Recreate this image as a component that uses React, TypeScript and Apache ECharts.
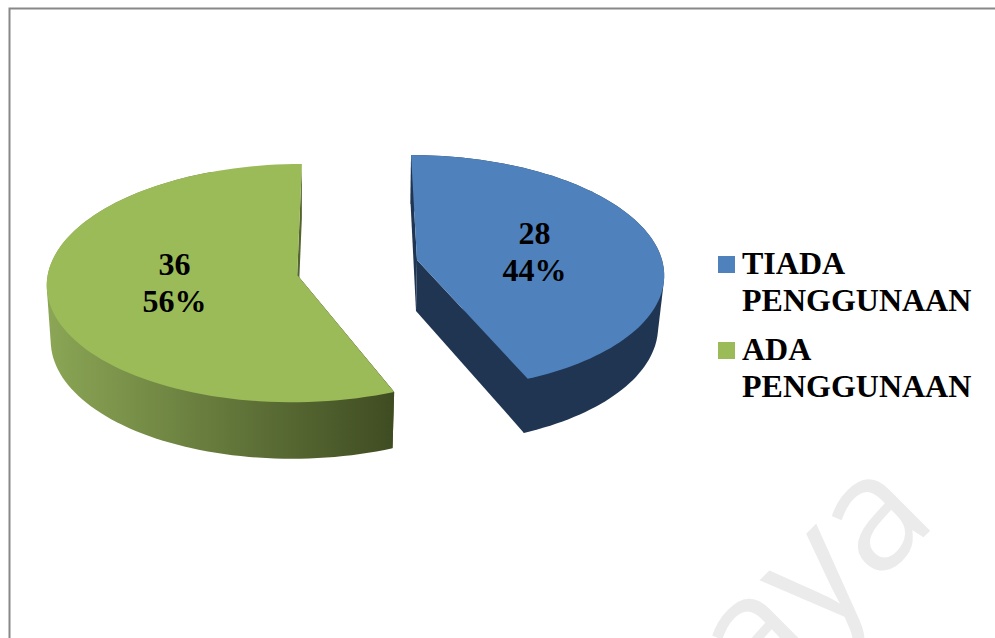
import React, { useEffect, useRef } from "react";
import * as echarts from "echarts";

// Usage counts per category
const categories = ["TIADA\nPENGGUNAAN", "ADA\nPENGGUNAAN"];
const values = [28, 36];
const faceColors = ["#4f81bd", "#9bbb59"];
const sideStops = [
  ["#1f3552", "#1f3552"],
  ["#8ba655", "#3f4c22"],
];
const watermark = "aya";

type Plane = { ox: number; oy: number; a: number; b: number; s: number; k: number };

// Perspective of each exploded wedge: upper face, lower face, shaded span, label centre
const wedges = [
  {
    top: { ox: 417, oy: 260, a: 245, b: 116, s: 6.6, k: 0.106 },
    bottom: { ox: 416, oy: 311, a: 240, b: 119, s: 6, k: 0.106 },
    span: [410, 665],
    label: [534.5, 251],
  },
  {
    top: { ox: 297.2, oy: 275, a: 249.5, b: 118.6, s: -5, k: 0.068 },
    bottom: { ox: 297.2, oy: 330, a: 245.5, b: 120, s: -5, k: 0.068 },
    span: [47, 394],
    label: [174.5, 282],
  },
];

const project = (p: Plane, theta: number) => {
  const u = Math.sin(theta);
  const v = -Math.cos(theta);
  const d = 1 - p.k * v;
  return [p.ox + (p.a * u + p.s * v) / d, p.oy + (p.b * v) / d];
};

const arc = (p: Plane, from: number, to: number) => {
  const steps = 96;
  const pts: number[][] = [];
  for (let i = 0; i <= steps; i++) pts.push(project(p, from + ((to - from) * i) / steps));
  return pts;
};

// Monotone-chain hull, so the rim wall gets a straight tangent edge between both faces
const hull = (input: number[][]) => {
  const pts = input.slice().sort((p, q) => p[0] - q[0] || p[1] - q[1]);
  const cross = (o: number[], p: number[], q: number[]) =>
    (p[0] - o[0]) * (q[1] - o[1]) - (p[1] - o[1]) * (q[0] - o[0]);
  const chain = (list: number[][]) => {
    const out: number[][] = [];
    for (const p of list) {
      while (out.length >= 2 && cross(out[out.length - 2], out[out.length - 1], p) <= 0) out.pop();
      out.push(p);
    }
    out.pop();
    return out;
  };
  return [...chain(pts), ...chain(pts.slice().reverse())];
};

const total = values.reduce((a, b) => a + b, 0);
const SERIF = '"Liberation Serif", "Times New Roman", serif';

function renderWedge(params: any, api: any) {
  const i = params.dataIndex;
  const before = values.slice(0, i).reduce((a, b) => a + b, 0);
  const value = api.value(0);
  const from = (before / total) * Math.PI * 2;
  const to = ((before + value) / total) * Math.PI * 2;
  const w = wedges[i];
  const topArc = arc(w.top, from, to);
  const bottomArc = arc(w.bottom, from, to);
  const apexTop = [w.top.ox, w.top.oy];
  const apexBottom = [w.bottom.ox, w.bottom.oy];
  const wallEnd = Math.min(to, from + Math.PI);
  const sideFill = new echarts.graphic.LinearGradient(
    w.span[0], 0, w.span[1], 0,
    [
      { offset: 0, color: sideStops[i][0] },
      { offset: 1, color: sideStops[i][1] },
    ],
    true
  );
  const side = (points: number[][]) => ({
    type: "polygon",
    shape: { points },
    style: { fill: sideFill },
  });
  return {
    type: "group",
    children: [
      side([apexTop, topArc[0], bottomArc[0], apexBottom]),
      side([apexTop, topArc[topArc.length - 1], bottomArc[bottomArc.length - 1], apexBottom]),
      side(hull([...arc(w.top, from, wallEnd), ...arc(w.bottom, from, wallEnd)])),
      {
        type: "polygon",
        shape: { points: [apexTop, ...topArc] },
        style: { fill: faceColors[i] },
      },
      {
        type: "text",
        style: {
          text: `${value}\n${Math.round((value / total) * 100)}%`,
          x: w.label[0],
          y: w.label[1],
          fill: "#000",
          font: `bold 32px ${SERIF}`,
          lineHeight: 37,
          align: "center",
          verticalAlign: "middle",
        },
      },
    ],
  };
}

// Key to the right of the pie, with the swatch level with the first text line
const legendTops = [256, 342];
const legendGraphics = categories.flatMap((name, i) => [
  {
    type: "rect",
    shape: { x: 718, y: legendTops[i], width: 17, height: 17 },
    style: { fill: faceColors[i] },
  },
  {
    type: "text",
    style: {
      text: name,
      x: 742,
      y: legendTops[i] - 12,
      fill: "#000",
      font: `bold 32px ${SERIF}`,
      lineHeight: 37,
      align: "left",
      verticalAlign: "top",
    },
  },
]);

export default function App() {
  const ref = useRef<HTMLDivElement>(null);
  useEffect(() => {
    const chart = echarts.init(ref.current!, null, { renderer: "svg" });
    chart.setOption({
      animation: false,
      backgroundColor: "#ffffff",
      graphic: [
        {
          type: "text",
          x: 839,
          y: 421,
          rotation: Math.PI / 4,
          z: 0,
          style: {
            text: watermark,
            fill: "#ebebeb",
            font: '160px "Open Sans", sans-serif',
            align: "right",
            verticalAlign: "top",
          },
        },
        {
          type: "polyline",
          shape: { points: [[9.5, 638], [9.5, 8.5], [995, 8.5]] },
          style: { stroke: "#888888", lineWidth: 2, fill: "none" },
        },
        ...legendGraphics,
      ],
      series: [
        {
          type: "custom",
          coordinateSystem: "none",
          z: 2,
          renderItem: renderWedge,
          data: categories.map((name, i) => ({ name, value: [values[i]] })),
        },
      ],
    });
    return () => chart.dispose();
  }, []);
  return (
    <div
      ref={ref}
      style={{ position: "absolute", left: 0, top: 0, width: 995, height: 638 }}
    />
  );
}
